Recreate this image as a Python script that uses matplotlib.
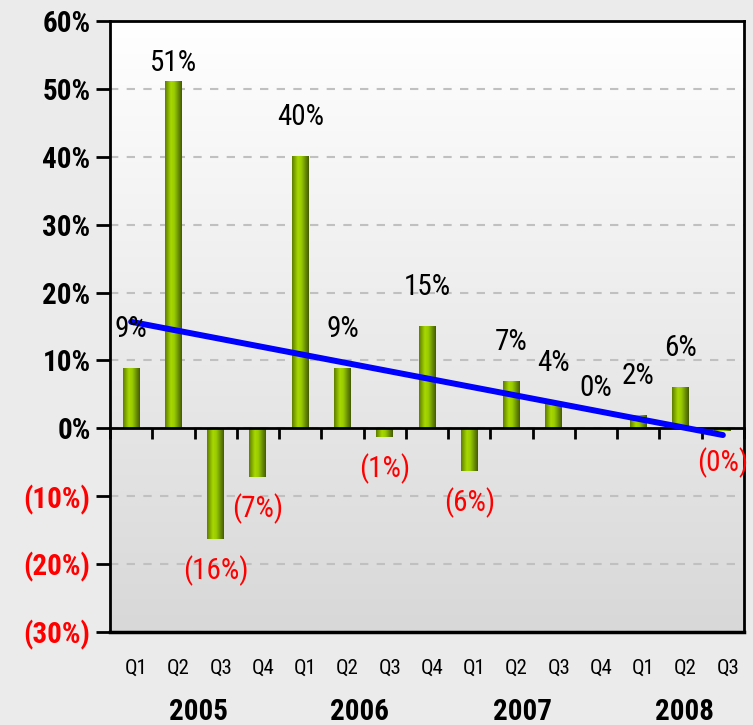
import numpy as np
import matplotlib
matplotlib.use("Agg")
import matplotlib.pyplot as plt
from matplotlib import font_manager
from matplotlib.colors import LinearSegmentedColormap
from matplotlib.ticker import FuncFormatter, FixedLocator
import matplotlib.transforms as mtransforms

# data
quarters = ["Q1", "Q2", "Q3", "Q4", "Q1", "Q2", "Q3", "Q4",
            "Q1", "Q2", "Q3", "Q4", "Q1", "Q2", "Q3"]
years = ["2005", "2006", "2007", "2008"]
year_pos = [1.6, 5.4, 9.25, 13.1]
growth = [8.8, 51.0, -16.3, -7.2, 40.0, 8.8, -1.3, 15.0,
          -6.3, 6.8, 3.7, 0.0, 1.8, 5.9, -0.4]
labels = ["9%", "51%", "(16%)", "(7%)", "40%", "9%", "(1%)", "15%",
          "(6%)", "7%", "4%", "0%", "2%", "6%", "(0%)"]

names = {f.name for f in font_manager.fontManager.ttflist}
fam = [f for f in ["Liberation Sans Narrow", "Roboto Condensed", "DejaVu Sans"] if f in names]
plt.rcParams["font.family"] = fam

x = np.arange(len(growth))
vals = np.array(growth)

fig = plt.figure(figsize=(7.53, 7.25), dpi=100, facecolor="#ebebeb")
ax = fig.add_axes([110 / 753, 93 / 725, 634 / 753, 611 / 725])
ax.set_xlim(-0.5, len(growth) - 0.5)
ax.set_ylim(-30, 60)

# plot area gradient
bg = LinearSegmentedColormap.from_list("bg", ["#d8d8d8", "#ffffff"])
ax.imshow(np.linspace(0, 1, 256).reshape(-1, 1), cmap=bg, aspect="auto",
          extent=[-0.5, len(growth) - 0.5, -30, 60], origin="lower", zorder=0)

ax.yaxis.set_major_locator(FixedLocator(np.arange(-30, 61, 10)))
ax.grid(axis="y", color="#c0c0c0", linestyle=(0, (4, 4)), linewidth=1.5, zorder=1)
ax.set_axisbelow(True)

# cylinder-like bars
barcm = LinearSegmentedColormap.from_list(
    "bar", [(0, "#5f7f00"), (0.35, "#a8d800"), (0.55, "#99cc00"), (1, "#445c00")])
w = 0.4
bars = ax.bar(x, vals, width=w, color="none", zorder=2)
grad = np.linspace(0, 1, 64).reshape(1, -1)
for b in bars:
    bx, by = b.get_x(), b.get_y()
    bw, bh = b.get_width(), b.get_height()
    if bh == 0:
        continue
    ax.imshow(grad, cmap=barcm, aspect="auto", zorder=2,
              extent=[bx, bx + bw, min(by, by + bh), max(by, by + bh)])

# trend line (least squares)
k, c = np.polyfit(x, vals, 1)
ax.plot(x, k * x + c, color="#0000ff", lw=4.3, zorder=4, solid_capstyle="round")

# data labels; the 51% one sits closer to its bar in the original
nudge = {1: 14}
for xi, v, lab in zip(x, vals, labels):
    if lab.startswith("("):
        ax.annotate(lab, (xi, v), xytext=(0, -22.5), textcoords="offset points",
                    ha="center", va="center", color="#ff0000", fontsize=21, zorder=5)
    else:
        ax.annotate(lab, (xi, v), xytext=(0, nudge.get(xi, 28.8)), textcoords="offset points",
                    ha="center", va="center", color="black", fontsize=21, zorder=5)

# axes styling
for s in ["top", "left", "right"]:
    ax.spines[s].set_linewidth(2)
ax.spines["bottom"].set_position(("data", 0))
ax.spines["bottom"].set_linewidth(2)
ax.axhline(-30, color="black", lw=2.5, zorder=6, clip_on=False)
ax.xaxis.set_major_locator(FixedLocator(np.arange(-0.5, len(growth), 1)))
ax.tick_params(axis="x", direction="out", length=8, width=2, labelbottom=False)
ax.tick_params(axis="y", direction="out", length=10, width=2, labelsize=21, pad=4)
ax.yaxis.set_major_formatter(FuncFormatter(
    lambda v, p: f"{v:.0f}%" if v >= 0 else f"({-v:.0f}%)"))
fig.canvas.draw()
for t in ax.get_yticklabels():
    t.set_fontweight("bold")
    if "(" in t.get_text():
        t.set_color("#ff0000")

trans = mtransforms.blended_transform_factory(ax.transData, ax.transAxes)
for xi, q in zip(x, quarters):
    ax.text(xi + 0.12, -36 / 611, q, transform=trans, ha="center", va="center", fontsize=15)
for yp, yr in zip(year_pos, years):
    ax.text(yp, -80 / 611, yr, transform=trans, ha="center", va="center",
            fontsize=21, fontweight="bold")

fig.savefig("out.png", dpi=100, facecolor=fig.get_facecolor())
